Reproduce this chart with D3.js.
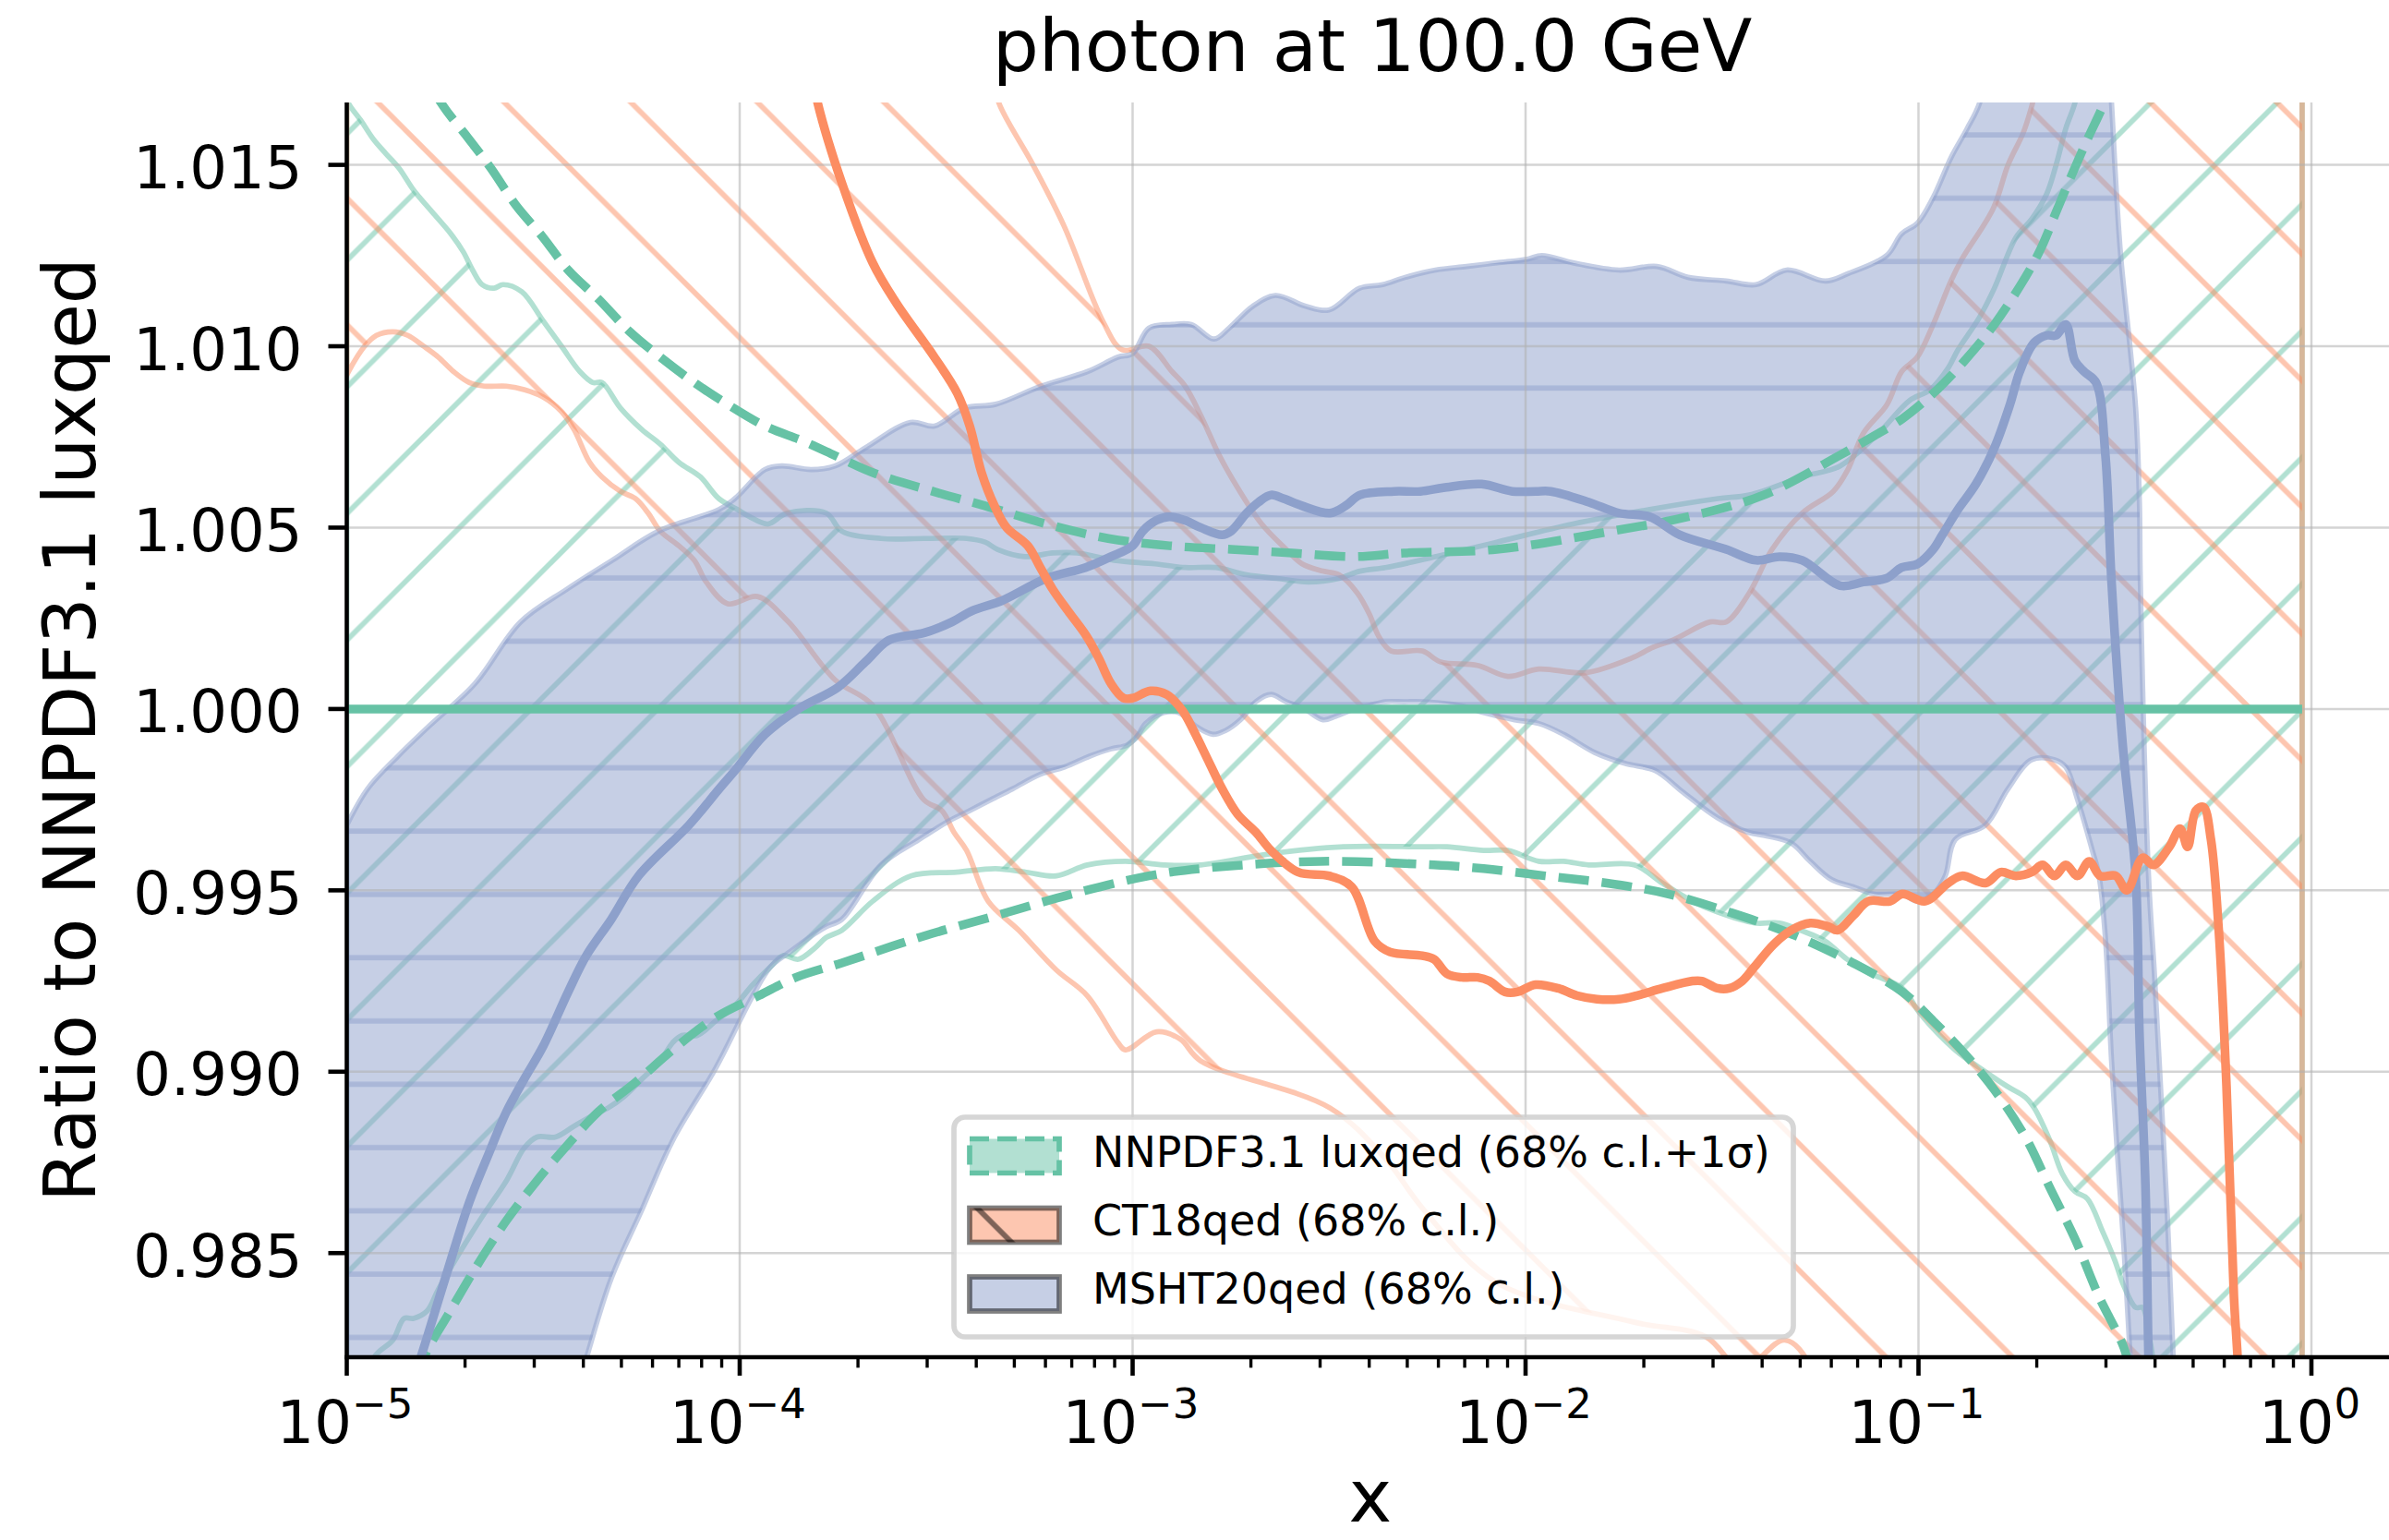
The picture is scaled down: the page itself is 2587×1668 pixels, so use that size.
<!DOCTYPE html>
<html>
<head>
<meta charset="utf-8">
<script src="https://cdn.jsdelivr.net/npm/d3@7"></script>
<style>
html, body { margin: 0; padding: 0; background: #ffffff; overflow: hidden; }
svg { display: block; }
text { font-family: "DejaVu Sans", sans-serif; fill: #000; }
</style>
</head>
<body>
<svg id="chart" width="2587" height="1668"></svg>
<script>
// ---------------- DATA ----------------
const titleText = "photon at 100.0 GeV";
const xLabelText = "x";
const yLabelText = "Ratio to NNPDF3.1 luxqed";
const legendLabels = ["NNPDF3.1 luxqed (68% c.l.+1\u03c3)", "CT18qed (68% c.l.)", "MSHT20qed (68% c.l.)"];
const xLimits = [1e-5, 1.585];
const yLimits = [0.98213, 1.01672];
const yTicks = [0.985, 0.990, 0.995, 1.000, 1.005, 1.010, 1.015];
const xTickExponents = [-5, -4, -3, -2, -1, 0];

// NNPDF3.1 luxqed (reference = 1)
const nnpdfCentral = [[1e-5, 1.0], [0.947, 1.0]];
const nnpdfSigmaUp = [[1.50e-5,1.0180],[1.74e-5,1.0167],[2.05e-5,1.0157],[2.33e-5,1.0149],[2.69e-5,1.0139],[3.16e-5,1.0130],[3.66e-5,1.0121],[4.37e-5,1.0113],[5.25e-5,1.0104],[6.28e-5,1.0097],[7.66e-5,1.0090],[9.31e-5,1.0084],[1.16e-4,1.0078],[1.44e-4,1.0074],[1.66e-4,1.0071],[2.20e-4,1.0065],[3.10e-4,1.0060],[4.21e-4,1.0056],[6.03e-4,1.0051],[8.67e-4,1.0047],[1.24e-3,1.0045],[1.78e-3,1.0044],[2.55e-3,1.0043],[3.66e-3,1.0042],[4.90e-3,1.0043],[8.45e-3,1.0044],[1.65e-2,1.0049],[2.59e-2,1.0053],[4.04e-2,1.0059],[6.32e-2,1.0070],[7.91e-2,1.0076],[9.10e-2,1.0080],[1.09e-1,1.0087],[1.31e-1,1.0096],[1.56e-1,1.0106],[1.87e-1,1.0119],[2.05e-1,1.0127],[2.24e-1,1.0137],[2.45e-1,1.0147],[2.69e-1,1.0157],[2.94e-1,1.0166],[3.20e-1,1.0176]];
const nnpdfSigmaDn = [[1.50e-5,0.9815],[1.60e-5,0.9823],[1.81e-5,0.9833],[2.13e-5,0.9846],[2.55e-5,0.9859],[3.05e-5,0.9870],[3.66e-5,0.9880],[4.37e-5,0.9889],[5.42e-5,0.9897],[6.75e-5,0.9906],[8.69e-5,0.9915],[1.12e-4,0.9921],[1.39e-4,0.9926],[1.82e-4,0.9930],[2.86e-4,0.9937],[4.48e-4,0.9943],[7.02e-4,0.9949],[1.10e-3,0.9954],[1.49e-3,0.9956],[3.00e-3,0.9958],[5.85e-3,0.9957],[7.82e-3,0.9956],[1.12e-2,0.9954],[1.61e-2,0.9952],[2.31e-2,0.9949],[3.30e-2,0.9944],[4.74e-2,0.9938],[6.81e-2,0.9930],[9.10e-2,0.9922],[1.09e-1,0.9914],[1.31e-1,0.9905],[1.56e-1,0.9895],[1.87e-1,0.9882],[2.16e-1,0.9868],[2.50e-1,0.9854],[2.88e-1,0.9838],[3.33e-1,0.9824],[3.50e-1,0.9815]];
const nnpdfCLUp = [[1.00e-5,1.0169],[1.01e-5,1.0167],[1.09e-5,1.0162],[1.17e-5,1.0157],[1.26e-5,1.0153],[1.36e-5,1.0149],[1.48e-5,1.0143],[1.65e-5,1.0137],[1.84e-5,1.0131],[1.98e-5,1.0126],[2.09e-5,1.0121],[2.21e-5,1.0117],[2.37e-5,1.0116],[2.50e-5,1.0117],[2.79e-5,1.0115],[3.16e-5,1.0107],[3.52e-5,1.0100],[3.92e-5,1.0093],[4.23e-5,1.0090],[4.46e-5,1.0090],[4.97e-5,1.0083],[5.64e-5,1.0077],[6.28e-5,1.0073],[7.00e-5,1.0068],[7.94e-5,1.0064],[8.85e-5,1.0058],[9.86e-5,1.0055],[1.06e-4,1.0053],[1.18e-4,1.0051],[1.32e-4,1.0054],[1.66e-4,1.0054],[1.82e-4,1.0049],[2.29e-4,1.0047],[2.94e-4,1.0047],[3.78e-4,1.0047],[4.21e-4,1.0046],[4.53e-4,1.0044],[5.32e-4,1.0042],[6.26e-4,1.0043],[7.24e-4,1.0043],[8.97e-4,1.0041],[1.14e-3,1.0040],[1.36e-3,1.0039],[1.63e-3,1.0039],[1.95e-3,1.0037],[2.33e-3,1.0036],[2.80e-3,1.0035],[3.35e-3,1.0036],[3.79e-3,1.0038],[4.40e-3,1.0039],[5.40e-3,1.0041],[8.45e-3,1.0046],[1.32e-2,1.0051],[2.07e-2,1.0055],[3.09e-2,1.0058],[3.71e-2,1.0059],[5.06e-2,1.0064],[6.32e-2,1.0067],[7.91e-2,1.0076],[9.48e-2,1.0085],[1.07e-1,1.0088],[1.19e-1,1.0094],[1.26e-1,1.0099],[1.43e-1,1.0108],[1.56e-1,1.0116],[1.77e-1,1.0130],[1.94e-1,1.0135],[2.12e-1,1.0142],[2.24e-1,1.0150],[2.37e-1,1.0160],[2.50e-1,1.0167],[2.65e-1,1.0180],[0.947,1.0300]];
const nnpdfCLDn = [[1.00e-5,0.9790],[1.17e-5,0.9821],[1.31e-5,0.9826],[1.40e-5,0.9832],[1.48e-5,0.9832],[1.60e-5,0.9834],[1.71e-5,0.9840],[1.91e-5,0.9849],[2.21e-5,0.9860],[2.55e-5,0.9870],[2.83e-5,0.9879],[3.05e-5,0.9882],[3.40e-5,0.9882],[3.79e-5,0.9885],[4.23e-5,0.9888],[4.62e-5,0.9890],[5.06e-5,0.9893],[5.64e-5,0.9898],[6.28e-5,0.9903],[6.75e-5,0.9908],[7.13e-5,0.9910],[7.80e-5,0.9910],[8.69e-5,0.9914],[9.68e-5,0.9918],[1.08e-4,0.9924],[1.20e-4,0.9929],[1.29e-4,0.9932],[1.41e-4,0.9931],[1.55e-4,0.9934],[1.66e-4,0.9937],[1.82e-4,0.9939],[2.18e-4,0.9947],[2.73e-4,0.9954],[3.57e-4,0.9955],[4.48e-4,0.9956],[5.36e-4,0.9955],[6.40e-4,0.9954],[7.67e-4,0.9957],[9.59e-4,0.9958],[1.20e-3,0.9957],[1.49e-3,0.9957],[2.21e-3,0.9960],[3.44e-3,0.9962],[5.46e-3,0.9962],[6.31e-3,0.9962],[7.82e-3,0.9961],[9.02e-3,0.9961],[1.08e-2,0.9958],[1.25e-2,0.9958],[1.45e-2,0.9957],[1.89e-2,0.9957],[2.23e-2,0.9952],[2.66e-2,0.9947],[3.08e-2,0.9944],[3.83e-2,0.9941],[4.43e-2,0.9941],[5.01e-2,0.9939],[5.79e-2,0.9936],[6.58e-2,0.9931],[7.59e-2,0.9927],[9.10e-2,0.9923],[1.01e-1,0.9916],[1.24e-1,0.9906],[1.48e-1,0.9900],[1.68e-1,0.9896],[1.87e-1,0.9893],[1.97e-1,0.9890],[2.16e-1,0.9881],[2.32e-1,0.9872],[2.50e-1,0.9867],[2.69e-1,0.9865],[2.94e-1,0.9856],[3.16e-1,0.9848],[3.33e-1,0.9841],[3.57e-1,0.9835],[3.72e-1,0.9835],[3.85e-1,0.9828],[3.95e-1,0.9821],[4.10e-1,0.9805],[0.947,0.9700]];

// CT18qed
const ct18Central = [[1.50e-4,1.0180],[1.58e-4,1.0167],[1.82e-4,1.0145],[2.18e-4,1.0123],[2.50e-4,1.0112],[3.13e-4,1.0097],[3.58e-4,1.0087],[3.85e-4,1.0078],[4.13e-4,1.0065],[4.45e-4,1.0056],[4.78e-4,1.0050],[5.41e-4,1.0045],[5.82e-4,1.0039],[6.26e-4,1.0033],[6.85e-4,1.0027],[7.64e-4,1.0020],[8.20e-4,1.0014],[8.81e-4,1.0007],[9.48e-4,1.0003],[1.00e-3,1.0003],[1.11e-3,1.0005],[1.22e-3,1.0004],[1.34e-3,0.99995],[1.43e-3,0.9994],[1.57e-3,0.9985],[1.69e-3,0.9978],[1.85e-3,0.9971],[2.06e-3,0.9966],[2.25e-3,0.9961],[2.64e-3,0.9955],[3.16e-3,0.9954],[3.61e-3,0.9951],[4.13e-3,0.9936],[4.52e-3,0.9933],[5.46e-3,0.9932],[5.85e-3,0.9931],[6.31e-3,0.9927],[6.89e-3,0.9926],[7.55e-3,0.9926],[8.09e-3,0.9925],[8.87e-3,0.9922],[9.53e-3,0.9922],[1.06e-2,0.9924],[1.21e-2,0.9923],[1.35e-2,0.9921],[1.52e-2,0.9920],[1.73e-2,0.9920],[1.92e-2,0.9921],[2.23e-2,0.9923],[2.66e-2,0.9925],[2.81e-2,0.9925],[3.08e-2,0.9923],[3.30e-2,0.9923],[3.56e-2,0.9925],[3.83e-2,0.9929],[4.27e-2,0.9935],[4.74e-2,0.9939],[5.30e-2,0.9941],[5.90e-2,0.9940],[6.22e-2,0.9939],[6.82e-2,0.9943],[7.45e-2,0.9947],[8.47e-2,0.9947],[9.10e-2,0.9949],[1.04e-1,0.9947],[1.19e-1,0.9952],[1.29e-1,0.9954],[1.48e-1,0.9952],[1.62e-1,0.9955],[1.77e-1,0.9954],[1.94e-1,0.9955],[2.07e-1,0.9957],[2.22e-1,0.9954],[2.37e-1,0.9957],[2.54e-1,0.9954],[2.72e-1,0.9958],[2.90e-1,0.9954],[3.18e-1,0.9954],[3.39e-1,0.9950],[3.72e-1,0.9959],[3.96e-1,0.9957],[4.35e-1,0.9962],[4.63e-1,0.9967],[4.84e-1,0.9962],[5.08e-1,0.9972],[5.31e-1,0.9973],[5.55e-1,0.9964],[5.81e-1,0.9939],[6.08e-1,0.9896],[6.35e-1,0.9838],[6.49e-1,0.9821],[6.61e-1,0.9800]];
const ct18Up = [[1.00e-5,1.0300],[4.40e-4,1.0175],[4.57e-4,1.0167],[5.58e-4,1.0150],[6.70e-4,1.0133],[8.39e-4,1.0107],[9.42e-4,1.0099],[1.10e-3,1.0100],[1.26e-3,1.0093],[1.36e-3,1.0089],[1.49e-3,1.0081],[1.66e-3,1.0070],[1.85e-3,1.0061],[2.13e-3,1.0051],[2.46e-3,1.0044],[2.70e-3,1.0040],[3.05e-3,1.0038],[3.35e-3,1.0037],[3.73e-3,1.0032],[4.01e-3,1.0026],[4.23e-3,1.0020],[4.55e-3,1.0016],[5.46e-3,1.0016],[6.07e-3,1.0013],[7.55e-3,1.0012],[9.02e-3,1.0009],[1.08e-2,1.0011],[1.42e-2,1.0010],[1.86e-2,1.0014],[2.11e-2,1.0017],[2.37e-2,1.0019],[2.95e-2,1.0024],[3.24e-2,1.0024],[3.71e-2,1.0032],[4.24e-2,1.0044],[5.06e-2,1.0054],[6.07e-2,1.0060],[6.61e-2,1.0066],[7.24e-2,1.0076],[8.32e-2,1.0084],[9.06e-2,1.0093],[9.93e-2,1.0097],[1.08e-1,1.0105],[1.21e-1,1.0118],[1.29e-1,1.0124],[1.55e-1,1.0138],[1.69e-1,1.0150],[1.85e-1,1.0159],[1.94e-1,1.0166],[2.10e-1,1.0180],[0.947,1.0300]];
const ct18Dn = [[1.00e-5,1.0092],[1.01e-5,1.0093],[1.11e-5,1.0100],[1.19e-5,1.0103],[1.31e-5,1.0104],[1.43e-5,1.0103],[1.57e-5,1.0100],[1.71e-5,1.0097],[1.87e-5,1.0093],[2.05e-5,1.0090],[2.24e-5,1.0089],[2.55e-5,1.0089],[2.84e-5,1.0088],[3.16e-5,1.0086],[3.52e-5,1.0082],[3.79e-5,1.0077],[4.15e-5,1.0068],[4.46e-5,1.0064],[4.97e-5,1.0060],[5.43e-5,1.0058],[5.85e-5,1.0054],[6.28e-5,1.0049],[7.00e-5,1.0045],[7.66e-5,1.0041],[8.22e-5,1.0035],[9.33e-5,1.0029],[1.11e-4,1.0031],[1.33e-4,1.0024],[1.75e-4,1.0008],[2.18e-4,1.0001],[2.94e-4,0.9975],[3.27e-4,0.9972],[3.51e-4,0.9966],[3.78e-4,0.9961],[4.29e-4,0.9947],[5.13e-4,0.9939],[6.40e-4,0.9928],[7.66e-4,0.9921],[9.18e-4,0.9908],[9.59e-4,0.9906],[1.15e-3,0.9911],[1.32e-3,0.9909],[1.49e-3,0.9903],[3.18e-3,0.9890],[4.40e-3,0.9876],[5.50e-3,0.9862],[8.39e-3,0.9842],[1.88e-2,0.9831],[2.87e-2,0.9827],[3.55e-2,0.9818],[4.57e-2,0.9826],[5.37e-2,0.9818],[7.94e-2,0.9750],[0.947,0.9700]];

// MSHT20qed
const mshtCentral = [[1.45e-5,0.9813],[1.54e-5,0.9821],[1.78e-5,0.9843],[2.05e-5,0.9864],[2.29e-5,0.9877],[2.55e-5,0.9889],[2.83e-5,0.9898],[3.16e-5,0.9907],[3.66e-5,0.9922],[4.07e-5,0.9932],[4.71e-5,0.9942],[5.53e-5,0.9954],[7.43e-5,0.9968],[8.87e-5,0.9978],[9.72e-5,0.9983],[1.16e-4,0.9993],[1.41e-4,1.0000],[1.78e-4,1.0006],[2.09e-4,1.0013],[2.40e-4,1.0019],[2.95e-4,1.0021],[3.47e-4,1.0024],[3.89e-4,1.0027],[4.68e-4,1.0030],[6.03e-4,1.0036],[7.59e-4,1.0039],[8.81e-4,1.0042],[1.00e-3,1.0045],[1.06e-3,1.0049],[1.15e-3,1.0052],[1.24e-3,1.0053],[1.36e-3,1.0052],[1.49e-3,1.0050],[1.69e-3,1.0048],[1.78e-3,1.0049],[1.95e-3,1.0054],[2.09e-3,1.0057],[2.25e-3,1.0059],[2.42e-3,1.0058],[2.70e-3,1.0056],[3.18e-3,1.0054],[3.48e-3,1.0056],[3.79e-3,1.0059],[4.63e-3,1.0060],[5.40e-3,1.0060],[6.18e-3,1.0061],[7.73e-3,1.0062],[9.25e-3,1.0060],[1.06e-2,1.0060],[1.16e-2,1.0060],[1.45e-2,1.0057],[1.73e-2,1.0054],[2.07e-2,1.0053],[2.47e-2,1.0048],[3.24e-2,1.0044],[3.86e-2,1.0041],[4.43e-2,1.0042],[5.06e-2,1.0041],[6.32e-2,1.0034],[7.24e-2,1.0035],[8.28e-2,1.0036],[9.06e-2,1.0039],[9.95e-2,1.0040],[1.09e-1,1.0044],[1.15e-1,1.0048],[1.26e-1,1.0055],[1.40e-1,1.0062],[1.56e-1,1.0072],[1.71e-1,1.0084],[1.81e-1,1.0093],[1.97e-1,1.0101],[2.12e-1,1.0103],[2.24e-1,1.0103],[2.37e-1,1.0106],[2.50e-1,1.0096],[2.64e-1,1.0093],[2.83e-1,1.0090],[2.99e-1,1.0070],[3.10e-1,1.0035],[3.31e-1,0.9990],[3.57e-1,0.9954],[3.65e-1,0.9911],[3.78e-1,0.9869],[3.85e-1,0.9821],[3.90e-1,0.9800]];
const mshtUp = [[1.00e-5,0.9968],[1.13e-5,0.9978],[1.35e-5,0.9987],[1.61e-5,0.9995],[2.12e-5,1.0007],[2.77e-5,1.0024],[3.63e-5,1.0033],[4.74e-5,1.0041],[6.21e-5,1.0049],[8.87e-5,1.0055],[9.72e-5,1.0058],[1.16e-4,1.0066],[1.28e-4,1.0067],[1.52e-4,1.0066],[1.75e-4,1.0067],[2.09e-4,1.0072],[2.72e-4,1.0079],[3.13e-4,1.0078],[3.74e-4,1.0083],[4.48e-4,1.0084],[5.85e-4,1.0089],[7.67e-4,1.0093],[9.18e-4,1.0097],[1.00e-3,1.0098],[1.10e-3,1.0105],[1.26e-3,1.0106],[1.41e-3,1.0106],[1.61e-3,1.0102],[1.76e-3,1.0105],[2.02e-3,1.0111],[2.31e-3,1.0114],[2.76e-3,1.0111],[3.16e-3,1.0110],[3.78e-3,1.0116],[4.33e-3,1.0117],[4.94e-3,1.0119],[5.90e-3,1.0121],[7.08e-3,1.0122],[8.45e-3,1.0123],[1.01e-2,1.0124],[1.10e-2,1.0125],[1.32e-2,1.0123],[1.73e-2,1.0121],[2.16e-2,1.0122],[2.59e-2,1.0119],[3.24e-2,1.0118],[3.86e-2,1.0117],[4.62e-2,1.0121],[5.79e-2,1.0118],[6.61e-2,1.0120],[8.30e-2,1.0125],[9.06e-2,1.0131],[9.95e-2,1.0134],[1.09e-1,1.0141],[1.21e-1,1.0152],[1.33e-1,1.0160],[1.43e-1,1.0167],[1.55e-1,1.0185],[3.02e-1,1.0185],[3.10e-1,1.0167],[3.16e-1,1.0150],[3.27e-1,1.0125],[3.46e-1,1.0099],[3.57e-1,1.0083],[3.65e-1,1.0057],[3.67e-1,1.0035],[3.85e-1,0.9954],[3.98e-1,0.9928],[4.14e-1,0.9894],[4.30e-1,0.9860],[4.45e-1,0.9821],[4.55e-1,0.9800]];
const mshtDn = [[1.00e-5,0.9750],[3.80e-5,0.9810],[4.07e-5,0.9821],[4.71e-5,0.9843],[5.64e-5,0.9862],[6.75e-5,0.9881],[8.69e-5,0.9901],[1.00e-4,0.9914],[1.08e-4,0.9921],[1.20e-4,0.9929],[1.34e-4,0.9933],[1.55e-4,0.9938],[1.66e-4,0.9940],[1.82e-4,0.9942],[2.29e-4,0.9957],[2.86e-4,0.9964],[3.39e-4,0.9969],[3.85e-4,0.9972],[4.36e-4,0.9975],[4.95e-4,0.9978],[5.82e-4,0.9982],[6.71e-4,0.9984],[7.78e-4,0.9987],[8.81e-4,0.9989],[9.66e-4,0.9990],[1.02e-3,0.9992],[1.08e-3,0.9996],[1.20e-3,0.9999],[1.31e-3,0.9999],[1.46e-3,0.9995],[1.60e-3,0.9993],[1.72e-3,0.9994],[1.88e-3,0.9997],[2.06e-3,1.0002],[2.25e-3,1.0004],[2.46e-3,1.0002],[2.74e-3,1.0000],[3.05e-3,0.9997],[3.29e-3,0.9998],[3.66e-3,1.0000],[4.01e-3,1.0001],[4.40e-3,1.0002],[4.90e-3,1.0002],[5.46e-3,1.0002],[6.78e-3,1.0001],[7.82e-3,0.9999],[9.38e-3,0.9997],[1.08e-2,0.9996],[1.25e-2,0.9993],[1.50e-2,0.9988],[1.79e-2,0.9985],[2.14e-2,0.9983],[2.52e-2,0.9977],[3.08e-2,0.9970],[3.69e-2,0.9966],[4.11e-2,0.9965],[4.75e-2,0.9963],[5.30e-2,0.9958],[6.00e-2,0.9953],[6.81e-2,0.9951],[7.73e-2,0.9949],[8.47e-2,0.9949],[9.10e-2,0.9949],[9.95e-2,0.9947],[1.09e-1,0.9949],[1.17e-1,0.9954],[1.24e-1,0.9964],[1.48e-1,0.9968],[1.69e-1,0.9978],[1.94e-1,0.9986],[2.22e-1,0.9986],[2.37e-1,0.9984],[2.54e-1,0.9975],[2.77e-1,0.9961],[2.88e-1,0.9954],[2.99e-1,0.9937],[3.10e-1,0.9903],[3.21e-1,0.9877],[3.33e-1,0.9852],[3.46e-1,0.9821],[3.55e-1,0.9800]];

// ---------------- STYLE ----------------
const C_GREEN = "#66c2a5", C_ORANGE = "#fc8d62", C_BLUE = "#8da0cb";
const LW_THICK = 9.5, LW_EDGE = 5.7, HATCH_P = 137.1;

// ---------------- SCALES ----------------
const svg = d3.select("#chart");
const x = d3.scaleLog().domain(xLimits).range([375.5, 2588.1]);
const y = d3.scaleLinear().domain(yLimits).range([1470, 111]);
const line = d3.line().x(d => x(d[0])).y(d => y(d[1])).curve(d3.curveCatmullRom.alpha(0.5));
const polygon = (up, dn) => line(up) + line(dn.slice().reverse()).replace(/^M/, "L") + "Z";

const defs = svg.append("defs");
defs.append("clipPath").attr("id", "plotClip").append("rect")
  .attr("x", x(xLimits[0])).attr("y", y(yLimits[1]))
  .attr("width", x(xLimits[1]) - x(xLimits[0]))
  .attr("height", y(yLimits[0]) - y(yLimits[1]));

// Hatch patterns (tiled from page origin, like matplotlib's device hatching)
function diagHatch(id, dir, c0, color, opacity, width) {
  const P = HATCH_P;
  const p = defs.append("pattern").attr("id", id).attr("patternUnits", "userSpaceOnUse")
    .attr("x", 0).attr("y", 0).attr("width", P).attr("height", P);
  [c0 - P, c0, c0 + P].forEach(c => {
    const l = p.append("line").attr("stroke", color).attr("stroke-opacity", opacity)
      .attr("stroke-width", width);
    if (dir === "ne") l.attr("x1", -20).attr("y1", c + 20).attr("x2", P + 20).attr("y2", c - P - 20);
    else l.attr("x1", -20).attr("y1", c - 20).attr("x2", P + 20).attr("y2", c + P + 20);
  });
}
diagHatch("hatchGreen", "ne", 109.3, C_GREEN, 0.5, LW_EDGE);
diagHatch("hatchOrange", "nw", 113.1, C_ORANGE, 0.5, LW_EDGE);
diagHatch("hatchLegend", "nw", 113.1, "#000", 0.5, LW_EDGE);
(function () {
  const p = defs.append("pattern").attr("id", "hatchBlue").attr("patternUnits", "userSpaceOnUse")
    .attr("x", 0).attr("y", 0).attr("width", HATCH_P).attr("height", HATCH_P / 2);
  p.append("line").attr("x1", -10).attr("x2", HATCH_P + 10).attr("y1", 9).attr("y2", 9)
    .attr("stroke", C_BLUE).attr("stroke-opacity", 0.5).attr("stroke-width", LW_EDGE);
})();

// ---------------- BANDS ----------------
const plot = svg.append("g").attr("clip-path", "url(#plotClip)");
plot.append("path").attr("d", polygon(nnpdfCLUp, nnpdfCLDn))
  .attr("fill", "url(#hatchGreen)").attr("stroke", C_GREEN).attr("stroke-opacity", 0.5)
  .attr("stroke-width", LW_EDGE).attr("stroke-linejoin", "round");
plot.append("path").attr("d", polygon(ct18Up, ct18Dn))
  .attr("fill", "url(#hatchOrange)").attr("stroke", C_ORANGE).attr("stroke-opacity", 0.5)
  .attr("stroke-width", LW_EDGE).attr("stroke-linejoin", "round");
plot.append("path").attr("d", polygon(mshtUp, mshtDn))
  .attr("fill", C_BLUE).attr("fill-opacity", 0.5).attr("stroke", "none");
plot.append("path").attr("d", polygon(mshtUp, mshtDn))
  .attr("fill", "url(#hatchBlue)").attr("stroke", C_BLUE).attr("stroke-opacity", 0.5)
  .attr("stroke-width", LW_EDGE).attr("stroke-linejoin", "round");

// ---------------- GRID ----------------
const grid = svg.append("g").attr("clip-path", "url(#plotClip)");
xTickExponents.forEach(e => {
  grid.append("line").attr("x1", x(Math.pow(10, e))).attr("x2", x(Math.pow(10, e)))
    .attr("y1", y(yLimits[1])).attr("y2", y(yLimits[0]))
    .attr("stroke", "#b0b0b0").attr("stroke-opacity", 0.55).attr("stroke-width", 2.5);
});
yTicks.forEach(v => {
  grid.append("line").attr("x1", x(xLimits[0])).attr("x2", x(xLimits[1]))
    .attr("y1", y(v)).attr("y2", y(v))
    .attr("stroke", "#b0b0b0").attr("stroke-opacity", 0.55).attr("stroke-width", 2.5);
});

// ---------------- LINES ----------------
const lines = svg.append("g").attr("clip-path", "url(#plotClip)").attr("fill", "none")
  .attr("stroke-linejoin", "round");
lines.append("path").attr("d", line(nnpdfCentral)).attr("stroke", C_GREEN).attr("stroke-width", LW_THICK);
[nnpdfSigmaUp, nnpdfSigmaDn].forEach(s => {
  lines.append("path").attr("d", line(s)).attr("stroke", C_GREEN).attr("stroke-width", LW_THICK)
    .attr("stroke-dasharray", "33 14");
});
lines.append("path").attr("d", line(mshtCentral)).attr("stroke", C_BLUE).attr("stroke-width", LW_THICK);
lines.append("path").attr("d", line(ct18Central)).attr("stroke", C_ORANGE).attr("stroke-width", LW_THICK);

// ---------------- AXES ----------------
const axes = svg.append("g");
const x0 = x(xLimits[0]), yb = y(yLimits[0]), yt = y(yLimits[1]);
axes.append("line").attr("x1", x0).attr("x2", x0).attr("y1", yt).attr("y2", yb + 2.3)
  .attr("stroke", "#000").attr("stroke-width", 4.6);
axes.append("line").attr("x1", x0 - 2.3).attr("x2", 2590).attr("y1", yb).attr("y2", yb)
  .attr("stroke", "#000").attr("stroke-width", 4.6);

yTicks.forEach(v => {
  axes.append("line").attr("x1", x0 - 20).attr("x2", x0).attr("y1", y(v)).attr("y2", y(v))
    .attr("stroke", "#000").attr("stroke-width", 4.6);
  axes.append("text").attr("x", 327.5).attr("y", y(v) + 25.5).attr("text-anchor", "end")
    .attr("font-size", 64).text(d3.format(".3f")(v));
});
xTickExponents.forEach(e => {
  const xv = x(Math.pow(10, e));
  axes.append("line").attr("x1", xv).attr("x2", xv).attr("y1", yb).attr("y2", yb + 20)
    .attr("stroke", "#000").attr("stroke-width", 4.6);
  for (let m = 2; m <= 9; m++) {
    const v = m * Math.pow(10, e);
    if (v > xLimits[1]) break;
    axes.append("line").attr("x1", x(v)).attr("x2", x(v)).attr("y1", yb).attr("y2", yb + 11.4)
      .attr("stroke", "#000").attr("stroke-width", 3.4);
  }
  const t = axes.append("text").attr("x", xv - 2).attr("y", 1563).attr("text-anchor", "middle")
    .attr("font-size", 64);
  t.append("tspan").text("10");
  t.append("tspan").attr("dy", -26.6).attr("font-size", 45)
    .text(e < 0 ? "\u2212" + Math.abs(e) : String(e));
});

svg.append("text").attr("x", 1486).attr("y", 77).attr("text-anchor", "middle")
  .attr("font-size", 79).text(titleText);
svg.append("text").attr("x", 1484).attr("y", 1648).attr("text-anchor", "middle")
  .attr("font-size", 79).text(xLabelText);
svg.append("text").attr("transform", "translate(103,790.5) rotate(-90)")
  .attr("text-anchor", "middle").attr("font-size", 79).text(yLabelText);

// ---------------- LEGEND ----------------
const lg = svg.append("g");
lg.append("rect").attr("x", 1033).attr("y", 1210).attr("width", 909).attr("height", 238)
  .attr("rx", 12).attr("fill", "#fff").attr("fill-opacity", 0.8)
  .attr("stroke", "#cccccc").attr("stroke-opacity", 0.8).attr("stroke-width", 5.7);
const rowY = [1233.5, 1308.5, 1383];
// NNPDF
lg.append("rect").attr("x", 1050).attr("y", rowY[0]).attr("width", 97).attr("height", 37)
  .attr("fill", C_GREEN).attr("fill-opacity", 0.5).attr("stroke", C_GREEN)
  .attr("stroke-width", LW_EDGE).attr("stroke-dasharray", "21 9");
// CT18
lg.append("rect").attr("x", 1050).attr("y", rowY[1]).attr("width", 97).attr("height", 37)
  .attr("fill", C_ORANGE).attr("fill-opacity", 0.5);
lg.append("rect").attr("x", 1050).attr("y", rowY[1]).attr("width", 97).attr("height", 37)
  .attr("fill", "url(#hatchLegend)").attr("stroke", "#000").attr("stroke-opacity", 0.5)
  .attr("stroke-width", LW_EDGE);
// MSHT
lg.append("rect").attr("x", 1050).attr("y", rowY[2]).attr("width", 97).attr("height", 37)
  .attr("fill", C_BLUE).attr("fill-opacity", 0.5).attr("stroke", "#000").attr("stroke-opacity", 0.5)
  .attr("stroke-width", LW_EDGE);
const textBase = [1264, 1338, 1412];
legendLabels.forEach((s, i) => {
  lg.append("text").attr("x", 1183).attr("y", textBase[i]).attr("font-size", 46).text(s);
});
</script>
</body>
</html>
